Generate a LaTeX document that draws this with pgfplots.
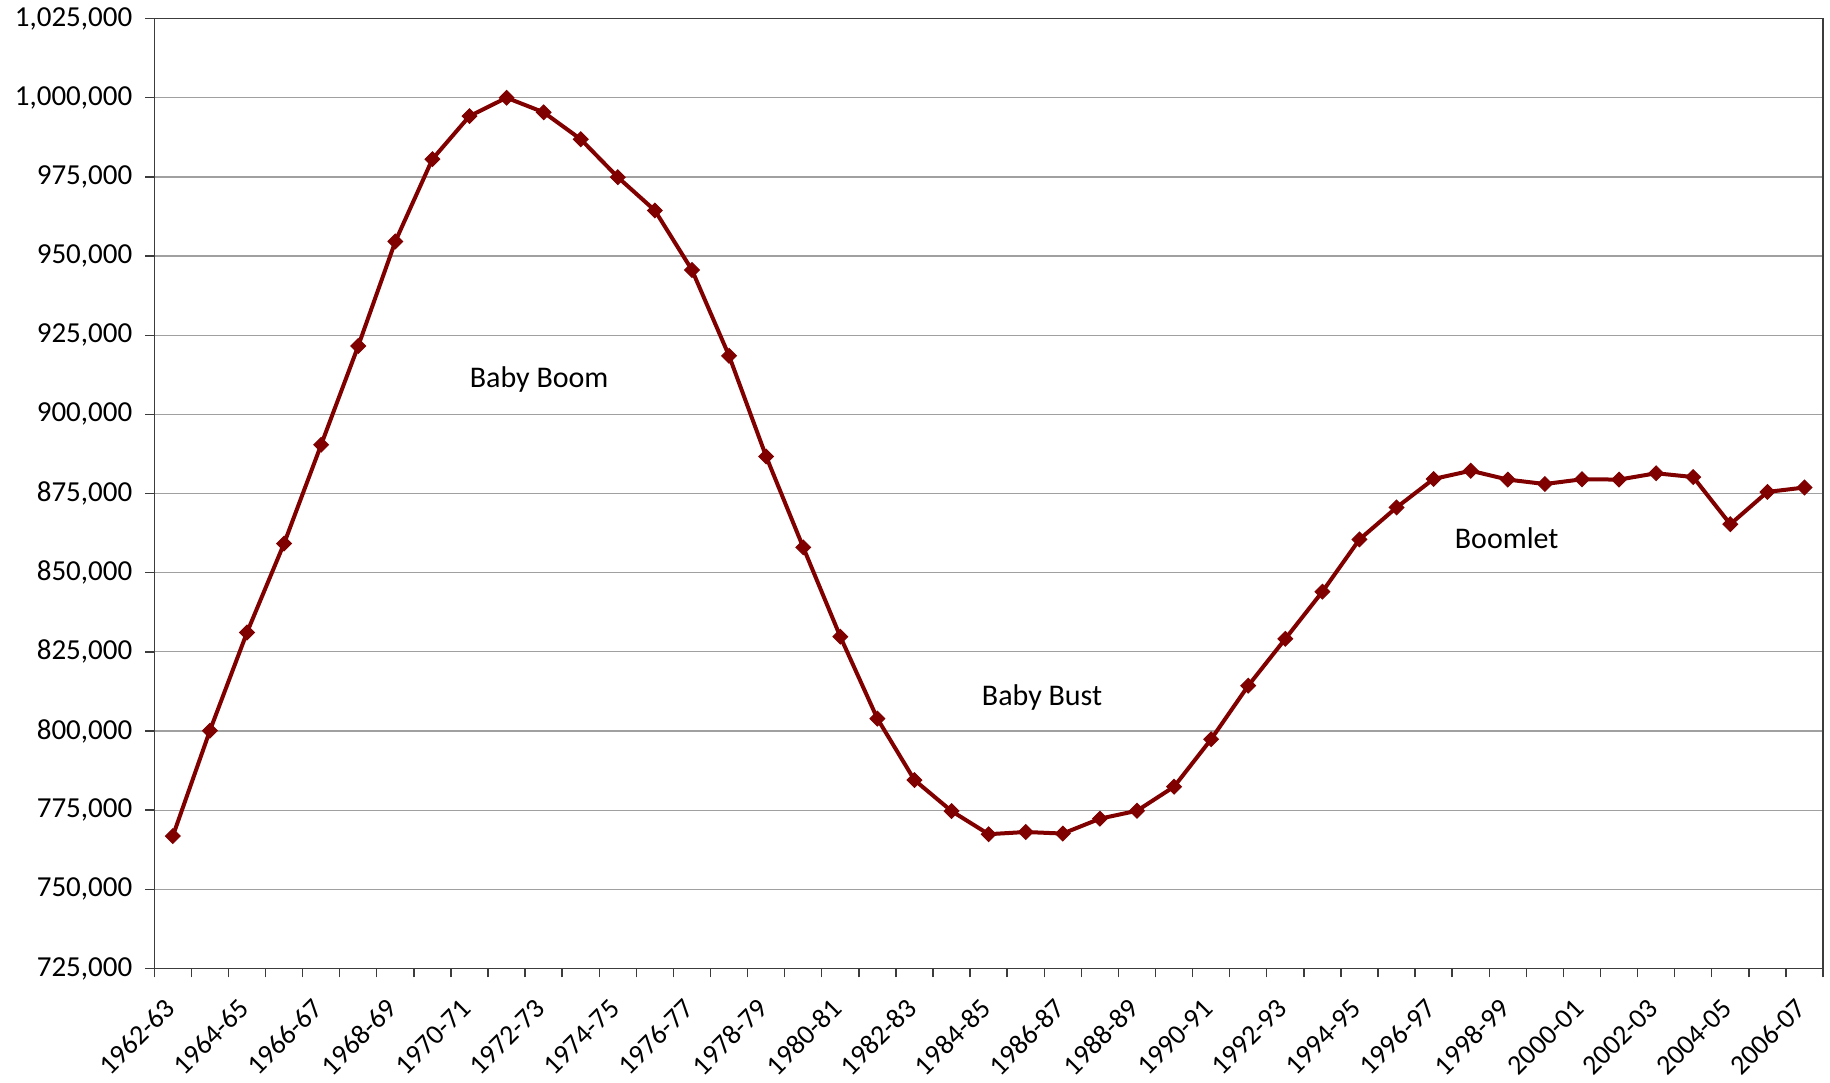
\documentclass[border=0pt]{standalone}
\usepackage{pgfplots}
\pgfplotsset{compat=1.18}
\usepackage{fontspec}
\setmainfont{Carlito}
\definecolor{linec}{RGB}{128,0,0}
\definecolor{gridc}{RGB}{160,160,160}
\definecolor{axc}{RGB}{60,60,60}
\begin{document}
\begin{tikzpicture}
\begin{axis}[
  scale only axis, width=834.5pt, height=475pt,
  xmin=-0.5, xmax=44.5, ymin=725000, ymax=1025000,
  ytick distance=25000,
  scaled y ticks=false,
  yticklabel style={/pgf/number format/fixed, /pgf/number format/1000 sep={,}, /pgf/number format/assume math mode=true, xshift=-3pt},
  tick label style={font=\fontsize{14.5}{17}\selectfont},
  xtick={-0.5,0.5,...,44.5},
  xticklabels={},
  extra x ticks={0,2,...,44},
  extra x tick labels={1962-63,1964-65,1966-67,1968-69,1970-71,1972-73,1974-75,1976-77,1978-79,1980-81,1982-83,1984-85,1986-87,1988-89,1990-91,1992-93,1994-95,1996-97,1998-99,2000-01,2002-03,2004-05,2006-07},
  extra x tick style={major tick length=0pt, xticklabel style={font=\fontsize{14}{16}\selectfont, rotate=45, anchor=east, inner sep=1pt, xshift=-12.5pt, yshift=-11.5pt}},
  tick pos=left,
  tick align=outside,
  major tick length=4.5pt,
  tick style={axc, line width=0.7pt},
  axis line style={axc, line width=0.7pt},
  ymajorgrids=true,
  major grid style={gridc, line width=0.6pt},
  clip=false,
]
\addplot[color=linec, line width=2pt, mark=square*, mark size=2.6pt, mark options={rotate=45, solid, fill=linec, draw=linec, line width=0.5pt}] coordinates {
(0,766800) (1,800100) (2,831100) (3,859200) (4,890400) (5,921600) (6,954600) (7,980600) (8,994200) (9,1000000)
(10,995400) (11,986900) (12,974900) (13,964400) (14,945600) (15,918500) (16,886700) (17,858000) (18,829800) (19,803900)
(20,784500) (21,774700) (22,767400) (23,768100) (24,767600) (25,772300) (26,774800) (27,782400) (28,797400) (29,814300)
(30,829100) (31,844000) (32,860500) (33,870600) (34,879600) (35,882200) (36,879400) (37,878000) (38,879500) (39,879400)
(40,881400) (41,880200) (42,865300) (43,875500) (44,876900)
};
\node[font=\fontsize{15}{18}\selectfont] at (axis cs:9.88,911000) {Baby Boom};
\node[font=\fontsize{15}{18}\selectfont] at (axis cs:23.44,810500) {Baby Bust};
\node[font=\fontsize{15}{18}\selectfont] at (axis cs:35.97,860800) {Boomlet};
\coordinate (bbsw) at (rel axis cs:0,0);
\coordinate (bbne) at (rel axis cs:1,1);
\end{axis}
\pgfresetboundingbox
\path[use as bounding box] ([shift={(-77.15pt,-57.15pt)}]bbsw) rectangle ([shift={(3.5pt,9.3pt)}]bbne);
\end{tikzpicture}
\end{document}
